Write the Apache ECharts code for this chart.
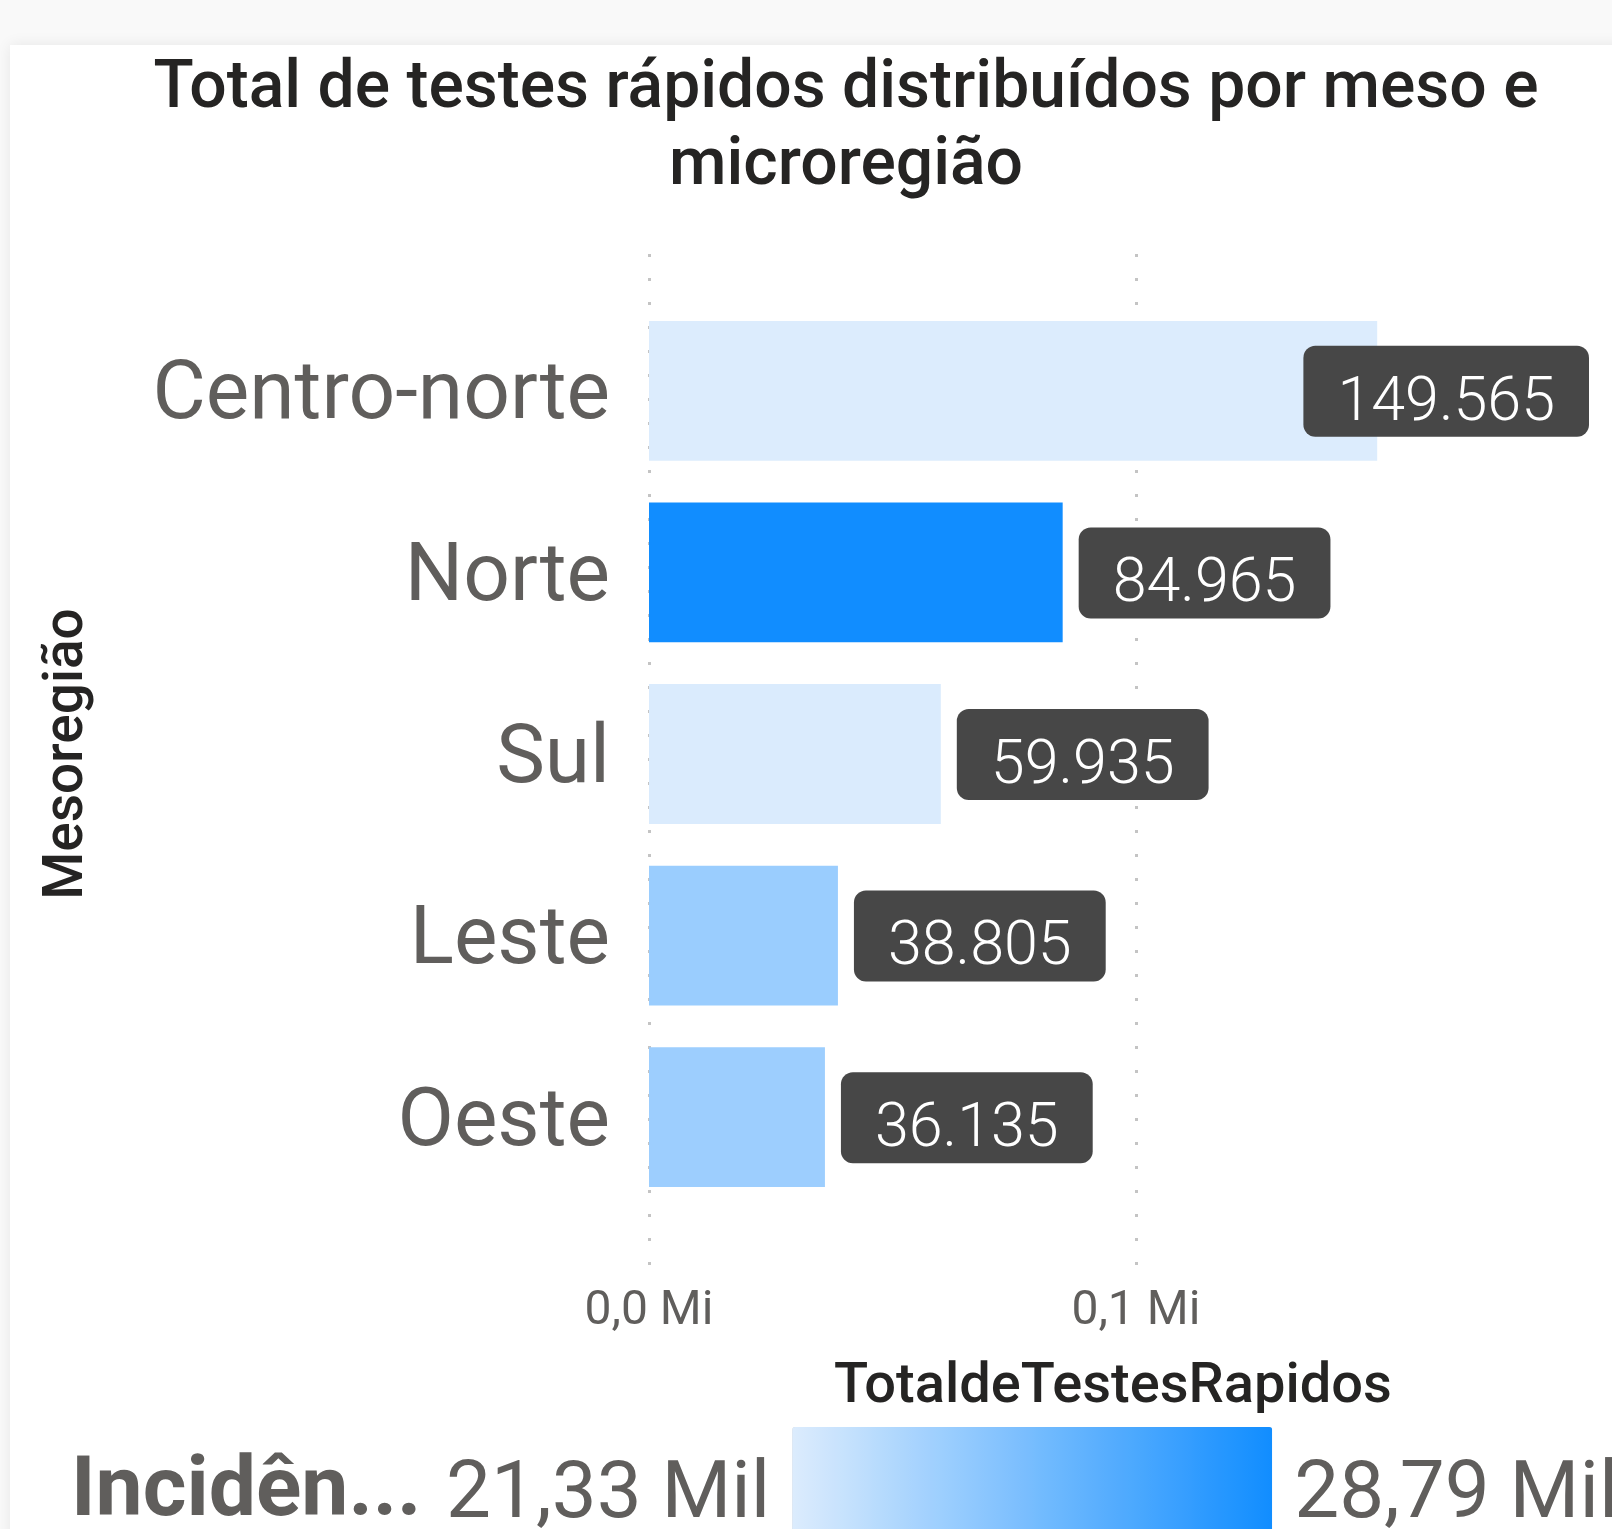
<!DOCTYPE html>
<html>
<head>
<meta charset="utf-8">
<title>Total de testes rápidos</title>
<script src="https://cdn.jsdelivr.net/npm/echarts@6/dist/echarts.min.js"></script>
<style>
  html, body { margin: 0; padding: 0; background: #f9f9f9; }
  #chart { width: 1612px; height: 1529px; }
</style>
</head>
<body>
<div id="chart"></div>
<script>
// dados
var regioes = ['Centro-norte', 'Norte', 'Sul', 'Leste', 'Oeste'];
var totalTestes = [149565, 84965, 59935, 38805, 36135];
// incidência (cor), estimada a partir do tom de cada barra
var incidencia = [21330, 28790, 21420, 23750, 23650];
var incMin = 21330, incMax = 28790;
var legendaTexto = ['28,79 Mil', '21,33 Mil'];

var fontDin = 'Roboto, "DejaVu Sans", sans-serif';
var cinza = '#605e5c';

var source = regioes.map(function (r, i) {
	return [r, totalTestes[i], incidencia[i]];
});

function fmtMil(v) {
	return String(v).replace(/\B(?=(\d{3})+(?!\d))/g, '.');
}

var chart = echarts.init(document.getElementById('chart'));
var W = 1612;

chart.setOption({
	backgroundColor: '#f9f9f9',
	animation: false,
	graphic: [{
		type: 'rect',
		z: -10,
		shape: { x: 10, y: 45, width: 1640, height: 1520 },
		style: { fill: '#ffffff', shadowBlur: 14, shadowColor: 'rgba(0,0,0,0.08)' }
	}],
	title: [{
		text: 'Total de testes rápidos distribuídos por meso e\nmicroregião',
		left: 841,
		textAlign: 'center',
		top: 47,
		textStyle: {
			fontFamily: fontDin, fontWeight: 500, fontSize: 66,
			color: '#252423', lineHeight: 77
		}
	}, {
		text: 'TotaldeTestesRapidos',
		left: 829,
		top: 1355,
		textStyle: { fontFamily: fontDin, fontWeight: 500, fontSize: 56, color: '#252423' }
	}, {
		text: 'Incidên...',
		left: 66,
		top: 1447,
		textStyle: { fontFamily: fontDin, fontWeight: 'bold', fontSize: 84, color: cinza }
	}],
	dataset: { source: source },
	grid: [
		{ left: 649, top: 254, width: 779, height: 1011 },
		{ left: 649, top: 300, width: 779, height: 908 }
	],
	xAxis: [{
		gridIndex: 0,
		type: 'value',
		min: 0, max: 160000, interval: 100000,
		axisLine: { show: false },
		axisTick: { show: false },
		splitLine: {
			show: true,
			lineStyle: { color: ['#c4c4c4', '#c4c4c4', 'rgba(0,0,0,0)'], width: 3, type: [3, 21] }
		},
		axisLabel: {
			margin: 23,
			fontFamily: fontDin, fontSize: 48, color: cinza,
			showMaxLabel: false,
			formatter: function (v) {
				if (v % 100000 !== 0) return '';
				return (v / 1e6).toFixed(1).replace('.', ',') + ' Mi';
			}
		}
	}, {
		gridIndex: 1,
		type: 'value',
		min: 0, max: 160000,
		show: false
	}],
	yAxis: [{
		gridIndex: 0,
		type: 'category',
		data: [''],
		show: false
	}, {
		gridIndex: 1,
		type: 'category',
		inverse: true,
		name: 'Mesoregião',
		nameLocation: 'middle',
		nameGap: 553,
		nameTextStyle: { fontFamily: fontDin, fontWeight: 500, fontSize: 55, color: '#252423' },
		axisLine: { show: false },
		axisTick: { show: false },
		axisLabel: {
			margin: 39,
			verticalAlign: 'top',
			lineHeight: 14,
			fontFamily: fontDin, fontSize: 82, color: cinza
		}
	}],
	visualMap: {
		type: 'continuous',
		seriesIndex: 0,
		dimension: 2,
		min: incMin,
		max: incMax,
		orient: 'horizontal',
		calculable: false,
		left: 431,
		top: 1412,
		itemWidth: 140,
		itemHeight: 480,
		textGap: 22,
		text: legendaTexto,
		textStyle: { fontFamily: fontDin, fontSize: 80, color: cinza },
		inRange: { color: ['#dcecfd', '#118dff'] }
	},
	series: [{
		type: 'bar',
		xAxisIndex: 1,
		yAxisIndex: 1,
		encode: { x: 1, y: 0 },
		barCategoryGap: '23%',
		label: {
			show: true,
			position: 'right',
			distance: 16,
			verticalAlign: 'top',
			formatter: function (p) { return fmtMil(p.value[1]); },
			fontFamily: fontDin,
			fontWeight: 300,
			fontSize: 61,
			lineHeight: 61,
			color: '#ffffff',
			backgroundColor: '#474747',
			borderRadius: 12,
			padding: [28, 34, 2, 34]
		},
		// caixa centrada na barra; a de cima é empurrada para dentro do quadro
		labelLayout: function (p) {
			var r = p.labelRect;
			var limite = W - 23;
			var out = { dy: -45 };
			if (r.x + r.width > limite) {
				out.dx = limite - (r.x + r.width);
			}
			return out;
		}
	}]
});
</script>
</body>
</html>
